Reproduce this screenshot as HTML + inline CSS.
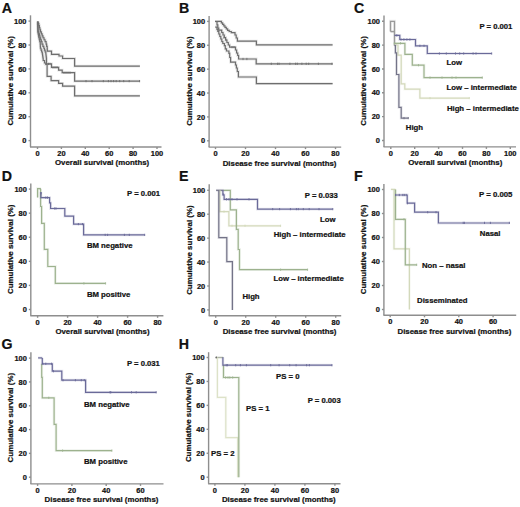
<!DOCTYPE html>
<html><head><meta charset="utf-8"><style>
html,body{margin:0;padding:0;background:#fff;}
svg{display:block;}
text{font-family:"Liberation Sans", sans-serif;font-weight:bold;fill:#111;stroke:#111;stroke-width:0.22px;paint-order:stroke;}
</style></head><body>
<svg width="520" height="507" viewBox="0 0 520 507">
<rect width="520" height="507" fill="#fff"/>
<text x="1.70" y="12.60" font-size="14.2" text-anchor="start" >A</text>
<line x1="30.50" y1="15.30" x2="30.50" y2="147.00" stroke="#8e8e8e" stroke-width="1.4"/>
<line x1="30.00" y1="147.00" x2="161.50" y2="147.00" stroke="#8e8e8e" stroke-width="1.4"/>
<line x1="28.50" y1="140.60" x2="30.50" y2="140.60" stroke="#8e8e8e" stroke-width="1.4"/>
<text x="26.50" y="143.20" font-size="7.45" text-anchor="end" >0</text>
<line x1="28.50" y1="116.70" x2="30.50" y2="116.70" stroke="#8e8e8e" stroke-width="1.4"/>
<text x="26.50" y="119.30" font-size="7.45" text-anchor="end" >20</text>
<line x1="28.50" y1="92.80" x2="30.50" y2="92.80" stroke="#8e8e8e" stroke-width="1.4"/>
<text x="26.50" y="95.40" font-size="7.45" text-anchor="end" >40</text>
<line x1="28.50" y1="68.90" x2="30.50" y2="68.90" stroke="#8e8e8e" stroke-width="1.4"/>
<text x="26.50" y="71.50" font-size="7.45" text-anchor="end" >60</text>
<line x1="28.50" y1="45.00" x2="30.50" y2="45.00" stroke="#8e8e8e" stroke-width="1.4"/>
<text x="26.50" y="47.60" font-size="7.45" text-anchor="end" >80</text>
<line x1="28.50" y1="21.10" x2="30.50" y2="21.10" stroke="#8e8e8e" stroke-width="1.4"/>
<text x="26.50" y="23.70" font-size="7.45" text-anchor="end" >100</text>
<line x1="37.50" y1="147.00" x2="37.50" y2="149.00" stroke="#8e8e8e" stroke-width="1.4"/>
<text x="37.50" y="156.00" font-size="7.45" text-anchor="middle" >0</text>
<line x1="61.40" y1="147.00" x2="61.40" y2="149.00" stroke="#8e8e8e" stroke-width="1.4"/>
<text x="61.40" y="156.00" font-size="7.45" text-anchor="middle" >20</text>
<line x1="85.30" y1="147.00" x2="85.30" y2="149.00" stroke="#8e8e8e" stroke-width="1.4"/>
<text x="85.30" y="156.00" font-size="7.45" text-anchor="middle" >40</text>
<line x1="109.20" y1="147.00" x2="109.20" y2="149.00" stroke="#8e8e8e" stroke-width="1.4"/>
<text x="109.20" y="156.00" font-size="7.45" text-anchor="middle" >60</text>
<line x1="133.10" y1="147.00" x2="133.10" y2="149.00" stroke="#8e8e8e" stroke-width="1.4"/>
<text x="133.10" y="156.00" font-size="7.45" text-anchor="middle" >80</text>
<line x1="157.00" y1="147.00" x2="157.00" y2="149.00" stroke="#8e8e8e" stroke-width="1.4"/>
<text x="157.00" y="156.00" font-size="7.45" text-anchor="middle" >100</text>
<text x="55.00" y="165.40" font-size="7.85" text-anchor="start" >Overall survival (months)</text>
<text x="0.00" y="0.00" font-size="7.95" text-anchor="middle" transform="translate(12.90,80.85) rotate(-90)">Cumulative survival (%)</text>
<text x="179.00" y="12.60" font-size="14.2" text-anchor="start" >B</text>
<line x1="209.10" y1="16.00" x2="209.10" y2="147.10" stroke="#8e8e8e" stroke-width="1.4"/>
<line x1="208.60" y1="147.10" x2="341.20" y2="147.10" stroke="#8e8e8e" stroke-width="1.4"/>
<line x1="207.10" y1="140.80" x2="209.10" y2="140.80" stroke="#8e8e8e" stroke-width="1.4"/>
<text x="205.10" y="143.40" font-size="7.45" text-anchor="end" >0</text>
<line x1="207.10" y1="116.92" x2="209.10" y2="116.92" stroke="#8e8e8e" stroke-width="1.4"/>
<text x="205.10" y="119.52" font-size="7.45" text-anchor="end" >20</text>
<line x1="207.10" y1="93.04" x2="209.10" y2="93.04" stroke="#8e8e8e" stroke-width="1.4"/>
<text x="205.10" y="95.64" font-size="7.45" text-anchor="end" >40</text>
<line x1="207.10" y1="69.16" x2="209.10" y2="69.16" stroke="#8e8e8e" stroke-width="1.4"/>
<text x="205.10" y="71.76" font-size="7.45" text-anchor="end" >60</text>
<line x1="207.10" y1="45.28" x2="209.10" y2="45.28" stroke="#8e8e8e" stroke-width="1.4"/>
<text x="205.10" y="47.88" font-size="7.45" text-anchor="end" >80</text>
<line x1="207.10" y1="21.40" x2="209.10" y2="21.40" stroke="#8e8e8e" stroke-width="1.4"/>
<text x="205.10" y="24.00" font-size="7.45" text-anchor="end" >100</text>
<line x1="215.50" y1="147.10" x2="215.50" y2="149.10" stroke="#8e8e8e" stroke-width="1.4"/>
<text x="215.50" y="156.10" font-size="7.45" text-anchor="middle" >0</text>
<line x1="245.50" y1="147.10" x2="245.50" y2="149.10" stroke="#8e8e8e" stroke-width="1.4"/>
<text x="245.50" y="156.10" font-size="7.45" text-anchor="middle" >20</text>
<line x1="275.50" y1="147.10" x2="275.50" y2="149.10" stroke="#8e8e8e" stroke-width="1.4"/>
<text x="275.50" y="156.10" font-size="7.45" text-anchor="middle" >40</text>
<line x1="305.50" y1="147.10" x2="305.50" y2="149.10" stroke="#8e8e8e" stroke-width="1.4"/>
<text x="305.50" y="156.10" font-size="7.45" text-anchor="middle" >60</text>
<line x1="335.50" y1="147.10" x2="335.50" y2="149.10" stroke="#8e8e8e" stroke-width="1.4"/>
<text x="335.50" y="156.10" font-size="7.45" text-anchor="middle" >80</text>
<text x="222.70" y="165.50" font-size="7.85" text-anchor="start" >Disease free survival (months)</text>
<text x="0.00" y="0.00" font-size="7.95" text-anchor="middle" transform="translate(191.50,81.10) rotate(-90)">Cumulative survival (%)</text>
<text x="354.00" y="12.60" font-size="14.2" text-anchor="start" >C</text>
<line x1="384.00" y1="15.40" x2="384.00" y2="146.90" stroke="#8e8e8e" stroke-width="1.4"/>
<line x1="383.50" y1="146.90" x2="516.00" y2="146.90" stroke="#8e8e8e" stroke-width="1.4"/>
<line x1="382.00" y1="140.50" x2="384.00" y2="140.50" stroke="#8e8e8e" stroke-width="1.4"/>
<text x="380.00" y="143.10" font-size="7.45" text-anchor="end" >0</text>
<line x1="382.00" y1="116.66" x2="384.00" y2="116.66" stroke="#8e8e8e" stroke-width="1.4"/>
<text x="380.00" y="119.26" font-size="7.45" text-anchor="end" >20</text>
<line x1="382.00" y1="92.82" x2="384.00" y2="92.82" stroke="#8e8e8e" stroke-width="1.4"/>
<text x="380.00" y="95.42" font-size="7.45" text-anchor="end" >40</text>
<line x1="382.00" y1="68.98" x2="384.00" y2="68.98" stroke="#8e8e8e" stroke-width="1.4"/>
<text x="380.00" y="71.58" font-size="7.45" text-anchor="end" >60</text>
<line x1="382.00" y1="45.14" x2="384.00" y2="45.14" stroke="#8e8e8e" stroke-width="1.4"/>
<text x="380.00" y="47.74" font-size="7.45" text-anchor="end" >80</text>
<line x1="382.00" y1="21.30" x2="384.00" y2="21.30" stroke="#8e8e8e" stroke-width="1.4"/>
<text x="380.00" y="23.90" font-size="7.45" text-anchor="end" >100</text>
<line x1="390.80" y1="146.90" x2="390.80" y2="148.90" stroke="#8e8e8e" stroke-width="1.4"/>
<text x="390.80" y="155.90" font-size="7.45" text-anchor="middle" >0</text>
<line x1="414.70" y1="146.90" x2="414.70" y2="148.90" stroke="#8e8e8e" stroke-width="1.4"/>
<text x="414.70" y="155.90" font-size="7.45" text-anchor="middle" >20</text>
<line x1="438.60" y1="146.90" x2="438.60" y2="148.90" stroke="#8e8e8e" stroke-width="1.4"/>
<text x="438.60" y="155.90" font-size="7.45" text-anchor="middle" >40</text>
<line x1="462.50" y1="146.90" x2="462.50" y2="148.90" stroke="#8e8e8e" stroke-width="1.4"/>
<text x="462.50" y="155.90" font-size="7.45" text-anchor="middle" >60</text>
<line x1="486.40" y1="146.90" x2="486.40" y2="148.90" stroke="#8e8e8e" stroke-width="1.4"/>
<text x="486.40" y="155.90" font-size="7.45" text-anchor="middle" >80</text>
<line x1="510.30" y1="146.90" x2="510.30" y2="148.90" stroke="#8e8e8e" stroke-width="1.4"/>
<text x="510.30" y="155.90" font-size="7.45" text-anchor="middle" >100</text>
<text x="408.20" y="165.30" font-size="7.85" text-anchor="start" >Overall survival (months)</text>
<text x="0.00" y="0.00" font-size="7.95" text-anchor="middle" transform="translate(366.40,80.90) rotate(-90)">Cumulative survival (%)</text>
<text x="1.80" y="180.70" font-size="14.2" text-anchor="start" >D</text>
<line x1="30.80" y1="183.50" x2="30.80" y2="315.80" stroke="#8e8e8e" stroke-width="1.4"/>
<line x1="30.30" y1="315.80" x2="163.40" y2="315.80" stroke="#8e8e8e" stroke-width="1.4"/>
<line x1="28.80" y1="309.50" x2="30.80" y2="309.50" stroke="#8e8e8e" stroke-width="1.4"/>
<text x="26.80" y="312.10" font-size="7.45" text-anchor="end" >0</text>
<line x1="28.80" y1="285.42" x2="30.80" y2="285.42" stroke="#8e8e8e" stroke-width="1.4"/>
<text x="26.80" y="288.02" font-size="7.45" text-anchor="end" >20</text>
<line x1="28.80" y1="261.34" x2="30.80" y2="261.34" stroke="#8e8e8e" stroke-width="1.4"/>
<text x="26.80" y="263.94" font-size="7.45" text-anchor="end" >40</text>
<line x1="28.80" y1="237.26" x2="30.80" y2="237.26" stroke="#8e8e8e" stroke-width="1.4"/>
<text x="26.80" y="239.86" font-size="7.45" text-anchor="end" >60</text>
<line x1="28.80" y1="213.18" x2="30.80" y2="213.18" stroke="#8e8e8e" stroke-width="1.4"/>
<text x="26.80" y="215.78" font-size="7.45" text-anchor="end" >80</text>
<line x1="28.80" y1="189.10" x2="30.80" y2="189.10" stroke="#8e8e8e" stroke-width="1.4"/>
<text x="26.80" y="191.70" font-size="7.45" text-anchor="end" >100</text>
<line x1="37.60" y1="315.80" x2="37.60" y2="317.80" stroke="#8e8e8e" stroke-width="1.4"/>
<text x="37.60" y="324.80" font-size="7.45" text-anchor="middle" >0</text>
<line x1="67.60" y1="315.80" x2="67.60" y2="317.80" stroke="#8e8e8e" stroke-width="1.4"/>
<text x="67.60" y="324.80" font-size="7.45" text-anchor="middle" >20</text>
<line x1="97.60" y1="315.80" x2="97.60" y2="317.80" stroke="#8e8e8e" stroke-width="1.4"/>
<text x="97.60" y="324.80" font-size="7.45" text-anchor="middle" >40</text>
<line x1="127.60" y1="315.80" x2="127.60" y2="317.80" stroke="#8e8e8e" stroke-width="1.4"/>
<text x="127.60" y="324.80" font-size="7.45" text-anchor="middle" >60</text>
<line x1="157.60" y1="315.80" x2="157.60" y2="317.80" stroke="#8e8e8e" stroke-width="1.4"/>
<text x="157.60" y="324.80" font-size="7.45" text-anchor="middle" >80</text>
<text x="55.40" y="334.20" font-size="7.85" text-anchor="start" >Overall survival (months)</text>
<text x="0.00" y="0.00" font-size="7.95" text-anchor="middle" transform="translate(13.20,249.30) rotate(-90)">Cumulative survival (%)</text>
<text x="179.00" y="180.70" font-size="14.2" text-anchor="start" >E</text>
<line x1="209.20" y1="184.20" x2="209.20" y2="315.80" stroke="#8e8e8e" stroke-width="1.4"/>
<line x1="208.70" y1="315.80" x2="341.20" y2="315.80" stroke="#8e8e8e" stroke-width="1.4"/>
<line x1="207.20" y1="309.90" x2="209.20" y2="309.90" stroke="#8e8e8e" stroke-width="1.4"/>
<text x="205.20" y="312.50" font-size="7.45" text-anchor="end" >0</text>
<line x1="207.20" y1="285.98" x2="209.20" y2="285.98" stroke="#8e8e8e" stroke-width="1.4"/>
<text x="205.20" y="288.58" font-size="7.45" text-anchor="end" >20</text>
<line x1="207.20" y1="262.06" x2="209.20" y2="262.06" stroke="#8e8e8e" stroke-width="1.4"/>
<text x="205.20" y="264.66" font-size="7.45" text-anchor="end" >40</text>
<line x1="207.20" y1="238.14" x2="209.20" y2="238.14" stroke="#8e8e8e" stroke-width="1.4"/>
<text x="205.20" y="240.74" font-size="7.45" text-anchor="end" >60</text>
<line x1="207.20" y1="214.22" x2="209.20" y2="214.22" stroke="#8e8e8e" stroke-width="1.4"/>
<text x="205.20" y="216.82" font-size="7.45" text-anchor="end" >80</text>
<line x1="207.20" y1="190.30" x2="209.20" y2="190.30" stroke="#8e8e8e" stroke-width="1.4"/>
<text x="205.20" y="192.90" font-size="7.45" text-anchor="end" >100</text>
<line x1="215.70" y1="315.80" x2="215.70" y2="317.80" stroke="#8e8e8e" stroke-width="1.4"/>
<text x="215.70" y="324.80" font-size="7.45" text-anchor="middle" >0</text>
<line x1="245.70" y1="315.80" x2="245.70" y2="317.80" stroke="#8e8e8e" stroke-width="1.4"/>
<text x="245.70" y="324.80" font-size="7.45" text-anchor="middle" >20</text>
<line x1="275.70" y1="315.80" x2="275.70" y2="317.80" stroke="#8e8e8e" stroke-width="1.4"/>
<text x="275.70" y="324.80" font-size="7.45" text-anchor="middle" >40</text>
<line x1="305.70" y1="315.80" x2="305.70" y2="317.80" stroke="#8e8e8e" stroke-width="1.4"/>
<text x="305.70" y="324.80" font-size="7.45" text-anchor="middle" >60</text>
<line x1="335.70" y1="315.80" x2="335.70" y2="317.80" stroke="#8e8e8e" stroke-width="1.4"/>
<text x="335.70" y="324.80" font-size="7.45" text-anchor="middle" >80</text>
<text x="222.70" y="334.20" font-size="7.85" text-anchor="start" >Disease free survival (months)</text>
<text x="0.00" y="0.00" font-size="7.95" text-anchor="middle" transform="translate(191.60,250.10) rotate(-90)">Cumulative survival (%)</text>
<text x="354.00" y="180.70" font-size="14.2" text-anchor="start" >F</text>
<line x1="383.90" y1="184.00" x2="383.90" y2="315.30" stroke="#8e8e8e" stroke-width="1.4"/>
<line x1="383.40" y1="315.30" x2="516.20" y2="315.30" stroke="#8e8e8e" stroke-width="1.4"/>
<line x1="381.90" y1="309.50" x2="383.90" y2="309.50" stroke="#8e8e8e" stroke-width="1.4"/>
<text x="379.90" y="312.10" font-size="7.45" text-anchor="end" >0</text>
<line x1="381.90" y1="285.50" x2="383.90" y2="285.50" stroke="#8e8e8e" stroke-width="1.4"/>
<text x="379.90" y="288.10" font-size="7.45" text-anchor="end" >20</text>
<line x1="381.90" y1="261.50" x2="383.90" y2="261.50" stroke="#8e8e8e" stroke-width="1.4"/>
<text x="379.90" y="264.10" font-size="7.45" text-anchor="end" >40</text>
<line x1="381.90" y1="237.50" x2="383.90" y2="237.50" stroke="#8e8e8e" stroke-width="1.4"/>
<text x="379.90" y="240.10" font-size="7.45" text-anchor="end" >60</text>
<line x1="381.90" y1="213.50" x2="383.90" y2="213.50" stroke="#8e8e8e" stroke-width="1.4"/>
<text x="379.90" y="216.10" font-size="7.45" text-anchor="end" >80</text>
<line x1="381.90" y1="189.50" x2="383.90" y2="189.50" stroke="#8e8e8e" stroke-width="1.4"/>
<text x="379.90" y="192.10" font-size="7.45" text-anchor="end" >100</text>
<line x1="390.20" y1="315.30" x2="390.20" y2="317.30" stroke="#8e8e8e" stroke-width="1.4"/>
<text x="390.20" y="324.30" font-size="7.45" text-anchor="middle" >0</text>
<line x1="424.50" y1="315.30" x2="424.50" y2="317.30" stroke="#8e8e8e" stroke-width="1.4"/>
<text x="424.50" y="324.30" font-size="7.45" text-anchor="middle" >20</text>
<line x1="458.80" y1="315.30" x2="458.80" y2="317.30" stroke="#8e8e8e" stroke-width="1.4"/>
<text x="458.80" y="324.30" font-size="7.45" text-anchor="middle" >40</text>
<line x1="493.10" y1="315.30" x2="493.10" y2="317.30" stroke="#8e8e8e" stroke-width="1.4"/>
<text x="493.10" y="324.30" font-size="7.45" text-anchor="middle" >60</text>
<text x="397.50" y="333.70" font-size="7.85" text-anchor="start" >Disease free survival (months)</text>
<text x="0.00" y="0.00" font-size="7.95" text-anchor="middle" transform="translate(366.30,249.50) rotate(-90)">Cumulative survival (%)</text>
<text x="1.50" y="349.10" font-size="14.2" text-anchor="start" >G</text>
<line x1="30.90" y1="352.20" x2="30.90" y2="483.90" stroke="#8e8e8e" stroke-width="1.4"/>
<line x1="30.40" y1="483.90" x2="163.50" y2="483.90" stroke="#8e8e8e" stroke-width="1.4"/>
<line x1="28.90" y1="477.20" x2="30.90" y2="477.20" stroke="#8e8e8e" stroke-width="1.4"/>
<text x="26.90" y="479.80" font-size="7.45" text-anchor="end" >0</text>
<line x1="28.90" y1="453.38" x2="30.90" y2="453.38" stroke="#8e8e8e" stroke-width="1.4"/>
<text x="26.90" y="455.98" font-size="7.45" text-anchor="end" >20</text>
<line x1="28.90" y1="429.56" x2="30.90" y2="429.56" stroke="#8e8e8e" stroke-width="1.4"/>
<text x="26.90" y="432.16" font-size="7.45" text-anchor="end" >40</text>
<line x1="28.90" y1="405.74" x2="30.90" y2="405.74" stroke="#8e8e8e" stroke-width="1.4"/>
<text x="26.90" y="408.34" font-size="7.45" text-anchor="end" >60</text>
<line x1="28.90" y1="381.92" x2="30.90" y2="381.92" stroke="#8e8e8e" stroke-width="1.4"/>
<text x="26.90" y="384.52" font-size="7.45" text-anchor="end" >80</text>
<line x1="28.90" y1="358.10" x2="30.90" y2="358.10" stroke="#8e8e8e" stroke-width="1.4"/>
<text x="26.90" y="360.70" font-size="7.45" text-anchor="end" >100</text>
<line x1="37.60" y1="483.90" x2="37.60" y2="485.90" stroke="#8e8e8e" stroke-width="1.4"/>
<text x="37.60" y="492.90" font-size="7.45" text-anchor="middle" >0</text>
<line x1="71.90" y1="483.90" x2="71.90" y2="485.90" stroke="#8e8e8e" stroke-width="1.4"/>
<text x="71.90" y="492.90" font-size="7.45" text-anchor="middle" >20</text>
<line x1="106.20" y1="483.90" x2="106.20" y2="485.90" stroke="#8e8e8e" stroke-width="1.4"/>
<text x="106.20" y="492.90" font-size="7.45" text-anchor="middle" >40</text>
<line x1="140.50" y1="483.90" x2="140.50" y2="485.90" stroke="#8e8e8e" stroke-width="1.4"/>
<text x="140.50" y="492.90" font-size="7.45" text-anchor="middle" >60</text>
<text x="44.60" y="502.30" font-size="7.85" text-anchor="start" >Disease free survival (months)</text>
<text x="0.00" y="0.00" font-size="7.95" text-anchor="middle" transform="translate(13.30,417.65) rotate(-90)">Cumulative survival (%)</text>
<text x="178.70" y="349.30" font-size="14.2" text-anchor="start" >H</text>
<line x1="208.60" y1="352.20" x2="208.60" y2="483.70" stroke="#8e8e8e" stroke-width="1.4"/>
<line x1="208.10" y1="483.70" x2="340.50" y2="483.70" stroke="#8e8e8e" stroke-width="1.4"/>
<line x1="206.60" y1="477.20" x2="208.60" y2="477.20" stroke="#8e8e8e" stroke-width="1.4"/>
<text x="204.60" y="479.80" font-size="7.45" text-anchor="end" >0</text>
<line x1="206.60" y1="453.26" x2="208.60" y2="453.26" stroke="#8e8e8e" stroke-width="1.4"/>
<text x="204.60" y="455.86" font-size="7.45" text-anchor="end" >20</text>
<line x1="206.60" y1="429.32" x2="208.60" y2="429.32" stroke="#8e8e8e" stroke-width="1.4"/>
<text x="204.60" y="431.92" font-size="7.45" text-anchor="end" >40</text>
<line x1="206.60" y1="405.38" x2="208.60" y2="405.38" stroke="#8e8e8e" stroke-width="1.4"/>
<text x="204.60" y="407.98" font-size="7.45" text-anchor="end" >60</text>
<line x1="206.60" y1="381.44" x2="208.60" y2="381.44" stroke="#8e8e8e" stroke-width="1.4"/>
<text x="204.60" y="384.04" font-size="7.45" text-anchor="end" >80</text>
<line x1="206.60" y1="357.50" x2="208.60" y2="357.50" stroke="#8e8e8e" stroke-width="1.4"/>
<text x="204.60" y="360.10" font-size="7.45" text-anchor="end" >100</text>
<line x1="214.90" y1="483.70" x2="214.90" y2="485.70" stroke="#8e8e8e" stroke-width="1.4"/>
<text x="214.90" y="492.70" font-size="7.45" text-anchor="middle" >0</text>
<line x1="244.90" y1="483.70" x2="244.90" y2="485.70" stroke="#8e8e8e" stroke-width="1.4"/>
<text x="244.90" y="492.70" font-size="7.45" text-anchor="middle" >20</text>
<line x1="274.90" y1="483.70" x2="274.90" y2="485.70" stroke="#8e8e8e" stroke-width="1.4"/>
<text x="274.90" y="492.70" font-size="7.45" text-anchor="middle" >40</text>
<line x1="304.90" y1="483.70" x2="304.90" y2="485.70" stroke="#8e8e8e" stroke-width="1.4"/>
<text x="304.90" y="492.70" font-size="7.45" text-anchor="middle" >60</text>
<line x1="334.90" y1="483.70" x2="334.90" y2="485.70" stroke="#8e8e8e" stroke-width="1.4"/>
<text x="334.90" y="492.70" font-size="7.45" text-anchor="middle" >80</text>
<text x="221.90" y="502.10" font-size="7.85" text-anchor="start" >Disease free survival (months)</text>
<text x="0.00" y="0.00" font-size="7.95" text-anchor="middle" transform="translate(191.00,417.35) rotate(-90)">Cumulative survival (%)</text>
<path d="M38.20,21.50 V23.57 H38.78 V25.65 H39.35 V27.73 H39.92 V29.80 H40.50 V31.80 H41.33 V33.80 H42.17 V35.80 H43.00 V37.77 H44.03 V39.73 H45.07 V41.70 H46.10 V44.05 H46.65 V46.40 H47.20 V48.80 H47.30 V51.20 H47.40 H51.5 V54.3 H59 V56 H62.6 V58.5 H74.6 V66.1 H139.9" fill="none" stroke="#6e6e6e" stroke-width="2.80" stroke-opacity="0.17"/>
<path d="M38.20,21.50 V23.57 H38.78 V25.65 H39.35 V27.73 H39.92 V29.80 H40.50 V31.80 H41.33 V33.80 H42.17 V35.80 H43.00 V37.77 H44.03 V39.73 H45.07 V41.70 H46.10 V44.05 H46.65 V46.40 H47.20 V48.80 H47.30 V51.20 H47.40 H51.5 V54.3 H59 V56 H62.6 V58.5 H74.6 V66.1 H139.9" fill="none" stroke="#6e6e6e" stroke-width="1.2"/>
<path d="M37.80,21.50 V23.57 H37.90 V25.65 H38.00 V27.73 H38.10 V29.80 H38.20 V31.80 H38.80 V33.80 H39.40 V35.80 H40.00 V37.77 H40.67 V39.73 H41.33 V41.70 H42.00 V44.05 H42.90 V46.40 H43.80 V48.27 H44.47 V50.13 H45.13 V52.00 H45.80 V54.00 H46.03 V56.00 H46.27 V58.00 H46.50 V59.97 H46.50 V61.93 H46.50 V63.90 H46.50 H51.5 V67.4 H58.6 V70.1 H62.2 V72.7 H74.6 V81.1 H139.9" fill="none" stroke="#6e6e6e" stroke-width="2.80" stroke-opacity="0.17"/>
<path d="M37.80,21.50 V23.57 H37.90 V25.65 H38.00 V27.73 H38.10 V29.80 H38.20 V31.80 H38.80 V33.80 H39.40 V35.80 H40.00 V37.77 H40.67 V39.73 H41.33 V41.70 H42.00 V44.05 H42.90 V46.40 H43.80 V48.27 H44.47 V50.13 H45.13 V52.00 H45.80 V54.00 H46.03 V56.00 H46.27 V58.00 H46.50 V59.97 H46.50 V61.93 H46.50 V63.90 H46.50 H51.5 V67.4 H58.6 V70.1 H62.2 V72.7 H74.6 V81.1 H139.9" fill="none" stroke="#6e6e6e" stroke-width="1.2"/>
<path d="M37.60,21.50 V23.57 H37.65 V25.65 H37.70 V27.73 H37.75 V29.80 H37.80 V31.80 H38.13 V33.80 H38.47 V35.80 H38.80 V37.77 H39.27 V39.73 H39.73 V41.70 H40.20 V44.05 H40.30 V46.40 H40.40 V48.27 H41.03 V50.13 H41.67 V52.00 H42.30 V54.00 H42.60 V56.00 H42.90 V58.00 H43.20 V60.50 H44.50 V63.00 H45.80 V64.50 H47.10 V76.3 H51.1 V80.7 H58.6 V83.4 H62.6 V86.2 H74.6 V95.8 H139.9" fill="none" stroke="#6e6e6e" stroke-width="2.80" stroke-opacity="0.17"/>
<path d="M37.60,21.50 V23.57 H37.65 V25.65 H37.70 V27.73 H37.75 V29.80 H37.80 V31.80 H38.13 V33.80 H38.47 V35.80 H38.80 V37.77 H39.27 V39.73 H39.73 V41.70 H40.20 V44.05 H40.30 V46.40 H40.40 V48.27 H41.03 V50.13 H41.67 V52.00 H42.30 V54.00 H42.60 V56.00 H42.90 V58.00 H43.20 V60.50 H44.50 V63.00 H45.80 V64.50 H47.10 V76.3 H51.1 V80.7 H58.6 V83.4 H62.6 V86.2 H74.6 V95.8 H139.9" fill="none" stroke="#6e6e6e" stroke-width="1.2"/>
<line x1="86" y1="80.0" x2="86" y2="82.19999999999999" stroke="#6e6e6e" stroke-width="0.9"/>
<line x1="92" y1="80.0" x2="92" y2="82.19999999999999" stroke="#6e6e6e" stroke-width="0.9"/>
<line x1="103.3" y1="80.0" x2="103.3" y2="82.19999999999999" stroke="#6e6e6e" stroke-width="0.9"/>
<line x1="108.4" y1="80.0" x2="108.4" y2="82.19999999999999" stroke="#6e6e6e" stroke-width="0.9"/>
<line x1="111" y1="80.0" x2="111" y2="82.19999999999999" stroke="#6e6e6e" stroke-width="0.9"/>
<line x1="113.6" y1="80.0" x2="113.6" y2="82.19999999999999" stroke="#6e6e6e" stroke-width="0.9"/>
<line x1="116.2" y1="80.0" x2="116.2" y2="82.19999999999999" stroke="#6e6e6e" stroke-width="0.9"/>
<line x1="119.7" y1="80.0" x2="119.7" y2="82.19999999999999" stroke="#6e6e6e" stroke-width="0.9"/>
<line x1="123.7" y1="80.0" x2="123.7" y2="82.19999999999999" stroke="#6e6e6e" stroke-width="0.9"/>
<line x1="129.2" y1="80.0" x2="129.2" y2="82.19999999999999" stroke="#6e6e6e" stroke-width="0.9"/>
<line x1="139.6" y1="80.0" x2="139.6" y2="82.19999999999999" stroke="#6e6e6e" stroke-width="0.9"/>
<line x1="48.5" y1="62.8" x2="48.5" y2="65.0" stroke="#6e6e6e" stroke-width="0.9"/>
<line x1="50" y1="62.8" x2="50" y2="65.0" stroke="#6e6e6e" stroke-width="0.9"/>
<line x1="53" y1="66.30000000000001" x2="53" y2="68.5" stroke="#6e6e6e" stroke-width="0.9"/>
<line x1="55" y1="66.30000000000001" x2="55" y2="68.5" stroke="#6e6e6e" stroke-width="0.9"/>
<line x1="57" y1="66.30000000000001" x2="57" y2="68.5" stroke="#6e6e6e" stroke-width="0.9"/>
<line x1="64" y1="71.60000000000001" x2="64" y2="73.8" stroke="#6e6e6e" stroke-width="0.9"/>
<line x1="66" y1="71.60000000000001" x2="66" y2="73.8" stroke="#6e6e6e" stroke-width="0.9"/>
<line x1="68" y1="71.60000000000001" x2="68" y2="73.8" stroke="#6e6e6e" stroke-width="0.9"/>
<line x1="70" y1="71.60000000000001" x2="70" y2="73.8" stroke="#6e6e6e" stroke-width="0.9"/>
<path d="M215,21.3 H221.4 V22.8 H222.6 V24.3 H223.8 V25.8 H225 V27.3 H226.3 V28.8 H227.6 V30.3 H229.2 V31.5 H231.3 V32.6 H235 V35 H236.2 V38 H237.4 V41.1 H256.4 V44.9 H332.6" fill="none" stroke="#6e6e6e" stroke-width="2.80" stroke-opacity="0.17"/>
<path d="M215,21.3 H221.4 V22.8 H222.6 V24.3 H223.8 V25.8 H225 V27.3 H226.3 V28.8 H227.6 V30.3 H229.2 V31.5 H231.3 V32.6 H235 V35 H236.2 V38 H237.4 V41.1 H256.4 V44.9 H332.6" fill="none" stroke="#6e6e6e" stroke-width="1.2"/>
<path d="M217,21.3 V24.9 H217.8 V28 H218.7 V30.2 H221.7 V32.5 H223 V35 H224.3 V37.5 H225.6 V40 H226.9 V42.5 H228.3 V45 H229.6 V47.1 H235.5 V50 H236.6 V53 H237.7 V55.5 H238.6 V59 H256.2 V63.8 H332.6" fill="none" stroke="#6e6e6e" stroke-width="2.80" stroke-opacity="0.17"/>
<path d="M217,21.3 V24.9 H217.8 V28 H218.7 V30.2 H221.7 V32.5 H223 V35 H224.3 V37.5 H225.6 V40 H226.9 V42.5 H228.3 V45 H229.6 V47.1 H235.5 V50 H236.6 V53 H237.7 V55.5 H238.6 V59 H256.2 V63.8 H332.6" fill="none" stroke="#6e6e6e" stroke-width="1.2"/>
<path d="M215.2,27.2 H217 V29.5 H217.8 V31.4 H218.8 V34 H219.8 V36.5 H220.8 V39 H221.8 V41.5 H222.8 V43.5 H224.4 V45.6 H225.3 V48.9 H226.5 V51 H228.9 V53.3 H229.7 V57.5 H230.6 V62.2 H235.5 V65 H236.4 V68 H237.3 V71.5 H238.4 V77 H256.4 V83.6 H332.6" fill="none" stroke="#6e6e6e" stroke-width="2.80" stroke-opacity="0.17"/>
<path d="M215.2,27.2 H217 V29.5 H217.8 V31.4 H218.8 V34 H219.8 V36.5 H220.8 V39 H221.8 V41.5 H222.8 V43.5 H224.4 V45.6 H225.3 V48.9 H226.5 V51 H228.9 V53.3 H229.7 V57.5 H230.6 V62.2 H235.5 V65 H236.4 V68 H237.3 V71.5 H238.4 V77 H256.4 V83.6 H332.6" fill="none" stroke="#6e6e6e" stroke-width="1.2"/>
<line x1="271.3" y1="62.699999999999996" x2="271.3" y2="64.89999999999999" stroke="#6e6e6e" stroke-width="0.9"/>
<line x1="277.6" y1="62.699999999999996" x2="277.6" y2="64.89999999999999" stroke="#6e6e6e" stroke-width="0.9"/>
<line x1="279.1" y1="62.699999999999996" x2="279.1" y2="64.89999999999999" stroke="#6e6e6e" stroke-width="0.9"/>
<line x1="289.9" y1="62.699999999999996" x2="289.9" y2="64.89999999999999" stroke="#6e6e6e" stroke-width="0.9"/>
<line x1="295.6" y1="62.699999999999996" x2="295.6" y2="64.89999999999999" stroke="#6e6e6e" stroke-width="0.9"/>
<line x1="297.3" y1="62.699999999999996" x2="297.3" y2="64.89999999999999" stroke="#6e6e6e" stroke-width="0.9"/>
<line x1="301.9" y1="62.699999999999996" x2="301.9" y2="64.89999999999999" stroke="#6e6e6e" stroke-width="0.9"/>
<line x1="306.2" y1="62.699999999999996" x2="306.2" y2="64.89999999999999" stroke="#6e6e6e" stroke-width="0.9"/>
<line x1="308.7" y1="62.699999999999996" x2="308.7" y2="64.89999999999999" stroke="#6e6e6e" stroke-width="0.9"/>
<line x1="318.4" y1="62.699999999999996" x2="318.4" y2="64.89999999999999" stroke="#6e6e6e" stroke-width="0.9"/>
<line x1="332" y1="62.699999999999996" x2="332" y2="64.89999999999999" stroke="#6e6e6e" stroke-width="0.9"/>
<line x1="246.9" y1="57.9" x2="246.9" y2="60.1" stroke="#6e6e6e" stroke-width="0.9"/>
<line x1="243" y1="57.9" x2="243" y2="60.1" stroke="#6e6e6e" stroke-width="0.9"/>
<line x1="232" y1="46.0" x2="232" y2="48.2" stroke="#6e6e6e" stroke-width="0.9"/>
<line x1="234" y1="46.0" x2="234" y2="48.2" stroke="#6e6e6e" stroke-width="0.9"/>
<line x1="224" y1="36.4" x2="224" y2="38.6" stroke="#6e6e6e" stroke-width="0.9"/>
<line x1="226" y1="38.9" x2="226" y2="41.1" stroke="#6e6e6e" stroke-width="0.9"/>
<path d="M390.5,31.6 V21.3 H394.5 V45.7" fill="none" stroke="#9a9a9a" stroke-width="2.90" stroke-opacity="0.17"/>
<path d="M390.5,31.6 V21.3 H394.5 V45.7" fill="none" stroke="#9a9a9a" stroke-width="1.3"/>
<path d="M390.5,31.6 H394.5" fill="none" stroke="#9a9a9a" stroke-width="2.90" stroke-opacity="0.17"/>
<path d="M390.5,31.6 H394.5" fill="none" stroke="#9a9a9a" stroke-width="1.3"/>
<path d="M394.5,35.4 H399.8 V39.5 H415.5 V45.8 H427.3 V53.5 H491.7" fill="none" stroke="#6a6a99" stroke-width="2.80" stroke-opacity="0.17"/>
<path d="M394.5,35.4 H399.8 V39.5 H415.5 V45.8 H427.3 V53.5 H491.7" fill="none" stroke="#6a6a99" stroke-width="1.2"/>
<line x1="396.8" y1="34.3" x2="396.8" y2="36.5" stroke="#6a6a99" stroke-width="0.9"/>
<line x1="401" y1="38.4" x2="401" y2="40.6" stroke="#6a6a99" stroke-width="0.9"/>
<line x1="403.9" y1="38.4" x2="403.9" y2="40.6" stroke="#6a6a99" stroke-width="0.9"/>
<line x1="406.9" y1="38.4" x2="406.9" y2="40.6" stroke="#6a6a99" stroke-width="0.9"/>
<line x1="409.9" y1="38.4" x2="409.9" y2="40.6" stroke="#6a6a99" stroke-width="0.9"/>
<line x1="419.9" y1="44.699999999999996" x2="419.9" y2="46.9" stroke="#6a6a99" stroke-width="0.9"/>
<line x1="424" y1="44.699999999999996" x2="424" y2="46.9" stroke="#6a6a99" stroke-width="0.9"/>
<line x1="439.4" y1="52.4" x2="439.4" y2="54.6" stroke="#6a6a99" stroke-width="0.9"/>
<line x1="446.3" y1="52.4" x2="446.3" y2="54.6" stroke="#6a6a99" stroke-width="0.9"/>
<line x1="455.5" y1="52.4" x2="455.5" y2="54.6" stroke="#6a6a99" stroke-width="0.9"/>
<line x1="459.7" y1="52.4" x2="459.7" y2="54.6" stroke="#6a6a99" stroke-width="0.9"/>
<line x1="463.7" y1="52.4" x2="463.7" y2="54.6" stroke="#6a6a99" stroke-width="0.9"/>
<line x1="473.1" y1="52.4" x2="473.1" y2="54.6" stroke="#6a6a99" stroke-width="0.9"/>
<line x1="476" y1="52.4" x2="476" y2="54.6" stroke="#6a6a99" stroke-width="0.9"/>
<line x1="491.7" y1="52.4" x2="491.7" y2="54.6" stroke="#6a6a99" stroke-width="0.9"/>
<path d="M394.5,42.5 V43.3 H404.9 V54.3 H412.3 V65.2 H424 V77.6 H482.3" fill="none" stroke="#9db28e" stroke-width="2.80" stroke-opacity="0.17"/>
<path d="M394.5,42.5 V43.3 H404.9 V54.3 H412.3 V65.2 H424 V77.6 H482.3" fill="none" stroke="#9db28e" stroke-width="1.2"/>
<line x1="400.5" y1="42.199999999999996" x2="400.5" y2="44.4" stroke="#9db28e" stroke-width="0.9"/>
<line x1="418.5" y1="64.10000000000001" x2="418.5" y2="66.3" stroke="#9db28e" stroke-width="0.9"/>
<line x1="430" y1="76.5" x2="430" y2="78.69999999999999" stroke="#9db28e" stroke-width="0.9"/>
<line x1="442" y1="76.5" x2="442" y2="78.69999999999999" stroke="#9db28e" stroke-width="0.9"/>
<line x1="452" y1="76.5" x2="452" y2="78.69999999999999" stroke="#9db28e" stroke-width="0.9"/>
<line x1="456" y1="76.5" x2="456" y2="78.69999999999999" stroke="#9db28e" stroke-width="0.9"/>
<line x1="482.3" y1="76.5" x2="482.3" y2="78.69999999999999" stroke="#9db28e" stroke-width="0.9"/>
<path d="M394.5,45 H398 V55.2 H401.2 V83.8 H404.8 V89.1 H419.9 V98.1 H469.3" fill="none" stroke="#d3d9bb" stroke-width="2.80" stroke-opacity="0.17"/>
<path d="M394.5,45 H398 V55.2 H401.2 V83.8 H404.8 V89.1 H419.9 V98.1 H469.3" fill="none" stroke="#d3d9bb" stroke-width="1.2"/>
<line x1="430" y1="97.0" x2="430" y2="99.19999999999999" stroke="#d3d9bb" stroke-width="0.9"/>
<line x1="469.3" y1="97.0" x2="469.3" y2="99.19999999999999" stroke="#d3d9bb" stroke-width="0.9"/>
<path d="M394.5,45.7 H395.4 V52.8 H396.5 V74.5 H398.9 V107.4 H401.2 V118.1 H408.3" fill="none" stroke="#737388" stroke-width="2.80" stroke-opacity="0.17"/>
<path d="M394.5,45.7 H395.4 V52.8 H396.5 V74.5 H398.9 V107.4 H401.2 V118.1 H408.3" fill="none" stroke="#737388" stroke-width="1.2"/>
<line x1="404" y1="117.0" x2="404" y2="119.19999999999999" stroke="#737388" stroke-width="0.9"/>
<line x1="408.3" y1="117.0" x2="408.3" y2="119.19999999999999" stroke="#737388" stroke-width="0.9"/>
<text x="479.40" y="28.60" font-size="7.7" text-anchor="start" >P = 0.001</text>
<text x="446.60" y="65.30" font-size="7.75" text-anchor="start" >Low</text>
<text x="446.60" y="89.60" font-size="7.75" text-anchor="start" >Low – intermediate</text>
<text x="446.90" y="111.00" font-size="7.75" text-anchor="start" >High – intermediate</text>
<text x="405.80" y="129.90" font-size="7.75" text-anchor="start" >High</text>
<path d="M37.6,197.4 V188.7 H40.9" fill="none" stroke="#9db28e" stroke-width="2.80" stroke-opacity="0.17"/>
<path d="M37.6,197.4 V188.7 H40.9" fill="none" stroke="#9db28e" stroke-width="1.2"/>
<path d="M40.6,188.7 V206.5 H41.6 V223.3 H44.3 V249.3 H47.8 V266.5 H55.3 V283.4 H105.6" fill="none" stroke="#9db28e" stroke-width="2.80" stroke-opacity="0.17"/>
<path d="M40.6,188.7 V206.5 H41.6 V223.3 H44.3 V249.3 H47.8 V266.5 H55.3 V283.4 H105.6" fill="none" stroke="#9db28e" stroke-width="1.2"/>
<line x1="83.9" y1="282.29999999999995" x2="83.9" y2="284.5" stroke="#9db28e" stroke-width="0.9"/>
<line x1="105.6" y1="282.29999999999995" x2="105.6" y2="284.5" stroke="#9db28e" stroke-width="0.9"/>
<path d="M40.9,192 V197.6 H49.6 V202.9 H50.6 V208.5 H64.8 V216.2 H73.6 V224.1 H83.6 V234.9 H144.7" fill="none" stroke="#6a6a99" stroke-width="2.80" stroke-opacity="0.17"/>
<path d="M40.9,192 V197.6 H49.6 V202.9 H50.6 V208.5 H64.8 V216.2 H73.6 V224.1 H83.6 V234.9 H144.7" fill="none" stroke="#6a6a99" stroke-width="1.2"/>
<line x1="41.1" y1="192.20000000000002" x2="41.1" y2="194.4" stroke="#6a6a99" stroke-width="0.9"/>
<line x1="45.8" y1="196.5" x2="45.8" y2="198.7" stroke="#6a6a99" stroke-width="0.9"/>
<line x1="47.5" y1="196.5" x2="47.5" y2="198.7" stroke="#6a6a99" stroke-width="0.9"/>
<line x1="54.7" y1="207.4" x2="54.7" y2="209.6" stroke="#6a6a99" stroke-width="0.9"/>
<line x1="56" y1="207.4" x2="56" y2="209.6" stroke="#6a6a99" stroke-width="0.9"/>
<line x1="78.4" y1="223.0" x2="78.4" y2="225.2" stroke="#6a6a99" stroke-width="0.9"/>
<line x1="82.5" y1="223.0" x2="82.5" y2="225.2" stroke="#6a6a99" stroke-width="0.9"/>
<line x1="105.2" y1="233.8" x2="105.2" y2="236.0" stroke="#6a6a99" stroke-width="0.9"/>
<line x1="107.6" y1="233.8" x2="107.6" y2="236.0" stroke="#6a6a99" stroke-width="0.9"/>
<line x1="124.4" y1="233.8" x2="124.4" y2="236.0" stroke="#6a6a99" stroke-width="0.9"/>
<line x1="129.3" y1="233.8" x2="129.3" y2="236.0" stroke="#6a6a99" stroke-width="0.9"/>
<line x1="144.7" y1="233.8" x2="144.7" y2="236.0" stroke="#6a6a99" stroke-width="0.9"/>
<text x="127.10" y="196.20" font-size="7.7" text-anchor="start" >P = 0.001</text>
<text x="86.90" y="248.40" font-size="7.75" text-anchor="start" >BM negative</text>
<text x="86.90" y="296.50" font-size="7.75" text-anchor="start" >BM positive</text>
<path d="M216.1,190.3 H223.8" fill="none" stroke="#737388" stroke-width="2.80" stroke-opacity="0.17"/>
<path d="M216.1,190.3 H223.8" fill="none" stroke="#737388" stroke-width="1.2"/>
<path d="M219.9,190.3 V211.6 H228.9 V225.8 H280.6" fill="none" stroke="#d3d9bb" stroke-width="2.80" stroke-opacity="0.17"/>
<path d="M219.9,190.3 V211.6 H228.9 V225.8 H280.6" fill="none" stroke="#d3d9bb" stroke-width="1.2"/>
<line x1="224" y1="210.5" x2="224" y2="212.7" stroke="#d3d9bb" stroke-width="0.9"/>
<line x1="232" y1="224.70000000000002" x2="232" y2="226.9" stroke="#d3d9bb" stroke-width="0.9"/>
<line x1="245" y1="224.70000000000002" x2="245" y2="226.9" stroke="#d3d9bb" stroke-width="0.9"/>
<line x1="280.6" y1="224.70000000000002" x2="280.6" y2="226.9" stroke="#d3d9bb" stroke-width="0.9"/>
<path d="M223.8,190.3 H230.3 V209.8 H236.4 V229.3 H238.2 V249.5 H239.5 V269.6 H307.6" fill="none" stroke="#9db28e" stroke-width="2.80" stroke-opacity="0.17"/>
<path d="M223.8,190.3 H230.3 V209.8 H236.4 V229.3 H238.2 V249.5 H239.5 V269.6 H307.6" fill="none" stroke="#9db28e" stroke-width="1.2"/>
<line x1="280.6" y1="268.59999999999997" x2="280.6" y2="270.8" stroke="#9db28e" stroke-width="0.9"/>
<line x1="307.6" y1="268.59999999999997" x2="307.6" y2="270.8" stroke="#9db28e" stroke-width="0.9"/>
<path d="M222.9,190.3 V194.8 H224.1 V199.3 H257.5 V209.1 H332.8" fill="none" stroke="#6a6a99" stroke-width="2.80" stroke-opacity="0.17"/>
<path d="M222.9,190.3 V194.8 H224.1 V199.3 H257.5 V209.1 H332.8" fill="none" stroke="#6a6a99" stroke-width="1.2"/>
<line x1="223.3" y1="193.3" x2="223.3" y2="195.5" stroke="#6a6a99" stroke-width="0.9"/>
<line x1="226.5" y1="198.20000000000002" x2="226.5" y2="200.4" stroke="#6a6a99" stroke-width="0.9"/>
<line x1="229" y1="198.20000000000002" x2="229" y2="200.4" stroke="#6a6a99" stroke-width="0.9"/>
<line x1="232" y1="198.20000000000002" x2="232" y2="200.4" stroke="#6a6a99" stroke-width="0.9"/>
<line x1="237" y1="198.20000000000002" x2="237" y2="200.4" stroke="#6a6a99" stroke-width="0.9"/>
<line x1="249" y1="198.20000000000002" x2="249" y2="200.4" stroke="#6a6a99" stroke-width="0.9"/>
<line x1="272.7" y1="208.0" x2="272.7" y2="210.2" stroke="#6a6a99" stroke-width="0.9"/>
<line x1="279.6" y1="208.0" x2="279.6" y2="210.2" stroke="#6a6a99" stroke-width="0.9"/>
<line x1="290.4" y1="208.0" x2="290.4" y2="210.2" stroke="#6a6a99" stroke-width="0.9"/>
<line x1="296.4" y1="208.0" x2="296.4" y2="210.2" stroke="#6a6a99" stroke-width="0.9"/>
<line x1="298.3" y1="208.0" x2="298.3" y2="210.2" stroke="#6a6a99" stroke-width="0.9"/>
<line x1="303.3" y1="208.0" x2="303.3" y2="210.2" stroke="#6a6a99" stroke-width="0.9"/>
<line x1="309.2" y1="208.0" x2="309.2" y2="210.2" stroke="#6a6a99" stroke-width="0.9"/>
<line x1="319" y1="208.0" x2="319" y2="210.2" stroke="#6a6a99" stroke-width="0.9"/>
<line x1="332.8" y1="208.0" x2="332.8" y2="210.2" stroke="#6a6a99" stroke-width="0.9"/>
<path d="M218.8,190.3 V237.6 H226.8 V261.6 H232.4 V309.9" fill="none" stroke="#737388" stroke-width="2.80" stroke-opacity="0.17"/>
<path d="M218.8,190.3 V237.6 H226.8 V261.6 H232.4 V309.9" fill="none" stroke="#737388" stroke-width="1.2"/>
<text x="304.80" y="197.80" font-size="7.7" text-anchor="start" >P = 0.033</text>
<text x="320.00" y="222.00" font-size="7.75" text-anchor="start" >Low</text>
<text x="273.70" y="236.90" font-size="7.75" text-anchor="start" >High – intermediate</text>
<text x="273.50" y="280.80" font-size="7.75" text-anchor="start" >Low – intermediate</text>
<text x="242.40" y="298.70" font-size="7.75" text-anchor="start" >High</text>
<path d="M390.9,189.4 H395.4" fill="none" stroke="#d3d9bb" stroke-width="2.80" stroke-opacity="0.17"/>
<path d="M390.9,189.4 H395.4" fill="none" stroke="#d3d9bb" stroke-width="1.2"/>
<path d="M394,189.4 V248.9 H409.4 V309.5" fill="none" stroke="#d3d9bb" stroke-width="2.80" stroke-opacity="0.17"/>
<path d="M394,189.4 V248.9 H409.4 V309.5" fill="none" stroke="#d3d9bb" stroke-width="1.2"/>
<path d="M395.5,189.4 V219.3 H405.3 V264.8 H416.7" fill="none" stroke="#9db28e" stroke-width="2.80" stroke-opacity="0.17"/>
<path d="M395.5,189.4 V219.3 H405.3 V264.8 H416.7" fill="none" stroke="#9db28e" stroke-width="1.2"/>
<line x1="404" y1="218.20000000000002" x2="404" y2="220.4" stroke="#9db28e" stroke-width="0.9"/>
<line x1="416.7" y1="263.7" x2="416.7" y2="265.90000000000003" stroke="#9db28e" stroke-width="0.9"/>
<path d="M395.4,195 H407.2 V203.2 H414.6 V212.2 H438.4 V223.0 H509.4" fill="none" stroke="#6a6a99" stroke-width="2.80" stroke-opacity="0.17"/>
<path d="M395.4,195 H407.2 V203.2 H414.6 V212.2 H438.4 V223.0 H509.4" fill="none" stroke="#6a6a99" stroke-width="1.2"/>
<line x1="395.6" y1="193.9" x2="395.6" y2="196.1" stroke="#6a6a99" stroke-width="0.9"/>
<line x1="399.3" y1="193.9" x2="399.3" y2="196.1" stroke="#6a6a99" stroke-width="0.9"/>
<line x1="402.8" y1="193.9" x2="402.8" y2="196.1" stroke="#6a6a99" stroke-width="0.9"/>
<line x1="404.3" y1="193.9" x2="404.3" y2="196.1" stroke="#6a6a99" stroke-width="0.9"/>
<line x1="406.2" y1="193.9" x2="406.2" y2="196.1" stroke="#6a6a99" stroke-width="0.9"/>
<line x1="407.5" y1="202.1" x2="407.5" y2="204.29999999999998" stroke="#6a6a99" stroke-width="0.9"/>
<line x1="427.7" y1="211.1" x2="427.7" y2="213.29999999999998" stroke="#6a6a99" stroke-width="0.9"/>
<line x1="436" y1="211.1" x2="436" y2="213.29999999999998" stroke="#6a6a99" stroke-width="0.9"/>
<line x1="463.2" y1="221.8" x2="463.2" y2="224.0" stroke="#6a6a99" stroke-width="0.9"/>
<line x1="464.4" y1="221.8" x2="464.4" y2="224.0" stroke="#6a6a99" stroke-width="0.9"/>
<line x1="484.5" y1="221.8" x2="484.5" y2="224.0" stroke="#6a6a99" stroke-width="0.9"/>
<line x1="490.4" y1="221.8" x2="490.4" y2="224.0" stroke="#6a6a99" stroke-width="0.9"/>
<line x1="509.4" y1="221.8" x2="509.4" y2="224.0" stroke="#6a6a99" stroke-width="0.9"/>
<text x="479.00" y="197.40" font-size="7.8" text-anchor="start" >P = 0.005</text>
<text x="479.80" y="236.00" font-size="7.75" text-anchor="start" >Nasal</text>
<text x="422.00" y="267.90" font-size="7.75" text-anchor="start" >Non – nasal</text>
<text x="417.10" y="303.30" font-size="7.75" text-anchor="start" >Disseminated</text>
<path d="M38.1,357.9 H42.3" fill="none" stroke="#6a6a99" stroke-width="2.80" stroke-opacity="0.17"/>
<path d="M38.1,357.9 H42.3" fill="none" stroke="#6a6a99" stroke-width="1.2"/>
<path d="M41.7,363.8 V377.4 H42.3 V397.8 H54.1 V424.4 H56.1 V450.6 H111.9" fill="none" stroke="#9db28e" stroke-width="2.80" stroke-opacity="0.17"/>
<path d="M41.7,363.8 V377.4 H42.3 V397.8 H54.1 V424.4 H56.1 V450.6 H111.9" fill="none" stroke="#9db28e" stroke-width="1.2"/>
<line x1="48.8" y1="396.7" x2="48.8" y2="398.90000000000003" stroke="#9db28e" stroke-width="0.9"/>
<line x1="62.6" y1="449.5" x2="62.6" y2="451.70000000000005" stroke="#9db28e" stroke-width="0.9"/>
<line x1="111.9" y1="449.5" x2="111.9" y2="451.70000000000005" stroke="#9db28e" stroke-width="0.9"/>
<path d="M42.3,357.9 V363.8 H52.3 V371.2 H61.8 V380.2 H85.6 V392.3 H156.2" fill="none" stroke="#6a6a99" stroke-width="2.80" stroke-opacity="0.17"/>
<path d="M42.3,357.9 V363.8 H52.3 V371.2 H61.8 V380.2 H85.6 V392.3 H156.2" fill="none" stroke="#6a6a99" stroke-width="1.2"/>
<line x1="42.9" y1="362.7" x2="42.9" y2="364.90000000000003" stroke="#6a6a99" stroke-width="0.9"/>
<line x1="45.8" y1="362.7" x2="45.8" y2="364.90000000000003" stroke="#6a6a99" stroke-width="0.9"/>
<line x1="51.5" y1="362.7" x2="51.5" y2="364.90000000000003" stroke="#6a6a99" stroke-width="0.9"/>
<line x1="53.5" y1="370.09999999999997" x2="53.5" y2="372.3" stroke="#6a6a99" stroke-width="0.9"/>
<line x1="63" y1="379.09999999999997" x2="63" y2="381.3" stroke="#6a6a99" stroke-width="0.9"/>
<line x1="75.4" y1="379.09999999999997" x2="75.4" y2="381.3" stroke="#6a6a99" stroke-width="0.9"/>
<line x1="81.3" y1="379.09999999999997" x2="81.3" y2="381.3" stroke="#6a6a99" stroke-width="0.9"/>
<line x1="84.3" y1="379.09999999999997" x2="84.3" y2="381.3" stroke="#6a6a99" stroke-width="0.9"/>
<line x1="110" y1="391.2" x2="110" y2="393.40000000000003" stroke="#6a6a99" stroke-width="0.9"/>
<line x1="110.8" y1="391.2" x2="110.8" y2="393.40000000000003" stroke="#6a6a99" stroke-width="0.9"/>
<line x1="131.5" y1="391.2" x2="131.5" y2="393.40000000000003" stroke="#6a6a99" stroke-width="0.9"/>
<line x1="136.2" y1="391.2" x2="136.2" y2="393.40000000000003" stroke="#6a6a99" stroke-width="0.9"/>
<line x1="156.2" y1="391.2" x2="156.2" y2="393.40000000000003" stroke="#6a6a99" stroke-width="0.9"/>
<text x="126.90" y="365.80" font-size="7.7" text-anchor="start" >P = 0.031</text>
<text x="84.00" y="407.40" font-size="7.75" text-anchor="start" >BM negative</text>
<text x="84.00" y="463.50" font-size="7.75" text-anchor="start" >BM positive</text>
<path d="M216.3,357.5 H223.3" fill="none" stroke="#aeb5a6" stroke-width="2.80" stroke-opacity="0.17"/>
<path d="M216.3,357.5 H223.3" fill="none" stroke="#aeb5a6" stroke-width="1.2"/>
<circle cx="216.3" cy="357.5" r="0.9" fill="#555"/>
<path d="M217.4,357.5 V397.4 H225.8 V437.6 H237.8 V477.2" fill="none" stroke="#dde2c8" stroke-width="2.80" stroke-opacity="0.17"/>
<path d="M217.4,357.5 V397.4 H225.8 V437.6 H237.8 V477.2" fill="none" stroke="#dde2c8" stroke-width="1.2"/>
<path d="M223.5,365 V377.5 H238.8 V477.2" fill="none" stroke="#9db28e" stroke-width="2.80" stroke-opacity="0.17"/>
<path d="M223.5,365 V377.5 H238.8 V477.2" fill="none" stroke="#9db28e" stroke-width="1.2"/>
<line x1="225.6" y1="376.4" x2="225.6" y2="378.6" stroke="#9db28e" stroke-width="0.9"/>
<line x1="228" y1="376.4" x2="228" y2="378.6" stroke="#9db28e" stroke-width="0.9"/>
<line x1="229.8" y1="376.4" x2="229.8" y2="378.6" stroke="#9db28e" stroke-width="0.9"/>
<line x1="232.7" y1="376.4" x2="232.7" y2="378.6" stroke="#9db28e" stroke-width="0.9"/>
<path d="M222.9,357.3 V365.2 H332" fill="none" stroke="#6a6a99" stroke-width="2.80" stroke-opacity="0.17"/>
<path d="M222.9,357.3 V365.2 H332" fill="none" stroke="#6a6a99" stroke-width="1.2"/>
<line x1="226.2" y1="364.09999999999997" x2="226.2" y2="366.3" stroke="#6a6a99" stroke-width="0.9"/>
<line x1="227.4" y1="364.09999999999997" x2="227.4" y2="366.3" stroke="#6a6a99" stroke-width="0.9"/>
<line x1="235.7" y1="364.09999999999997" x2="235.7" y2="366.3" stroke="#6a6a99" stroke-width="0.9"/>
<line x1="240.4" y1="364.09999999999997" x2="240.4" y2="366.3" stroke="#6a6a99" stroke-width="0.9"/>
<line x1="246.4" y1="364.09999999999997" x2="246.4" y2="366.3" stroke="#6a6a99" stroke-width="0.9"/>
<line x1="270.7" y1="364.09999999999997" x2="270.7" y2="366.3" stroke="#6a6a99" stroke-width="0.9"/>
<line x1="279.1" y1="364.09999999999997" x2="279.1" y2="366.3" stroke="#6a6a99" stroke-width="0.9"/>
<line x1="289.7" y1="364.09999999999997" x2="289.7" y2="366.3" stroke="#6a6a99" stroke-width="0.9"/>
<line x1="296.1" y1="364.09999999999997" x2="296.1" y2="366.3" stroke="#6a6a99" stroke-width="0.9"/>
<line x1="306.6" y1="364.09999999999997" x2="306.6" y2="366.3" stroke="#6a6a99" stroke-width="0.9"/>
<line x1="309.4" y1="364.09999999999997" x2="309.4" y2="366.3" stroke="#6a6a99" stroke-width="0.9"/>
<line x1="332" y1="364.09999999999997" x2="332" y2="366.3" stroke="#6a6a99" stroke-width="0.9"/>
<text x="276.00" y="378.60" font-size="7.75" text-anchor="start" >PS = 0</text>
<text x="307.70" y="402.90" font-size="7.7" text-anchor="start" >P = 0.003</text>
<text x="246.00" y="411.30" font-size="7.75" text-anchor="start" >PS = 1</text>
<text x="211.00" y="455.90" font-size="7.75" text-anchor="start" >PS = 2</text>
</svg>
</body></html>
